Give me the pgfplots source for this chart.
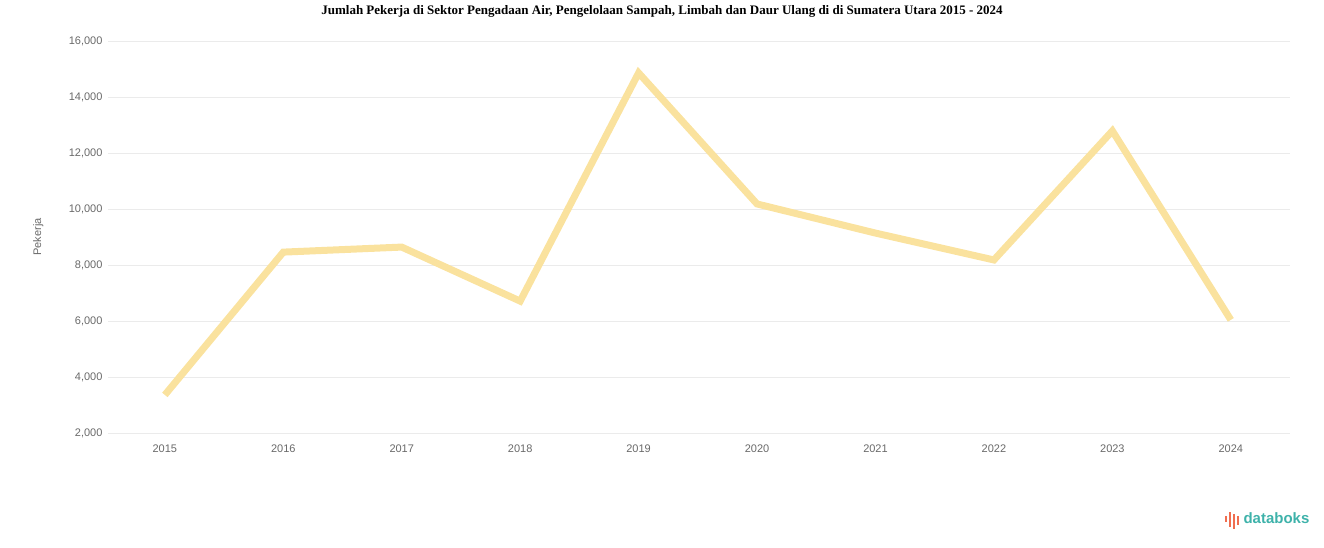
\documentclass[border=0pt]{standalone}
\usepackage{fontspec}
\setmainfont{Liberation Sans}
\newfontfamily\titlefont{Liberation Serif}
\usepackage{pgfplots}
\pgfplotsset{compat=1.18}
\definecolor{linec}{RGB}{250,226,158}
\definecolor{tickc}{RGB}{105,105,105}
\definecolor{gridc}{RGB}{235,235,235}
\definecolor{teal}{RGB}{62,178,170}
\definecolor{logoor}{RGB}{240,110,80}
\begin{document}
\begin{tikzpicture}
\path[use as bounding box] (0pt,0pt) rectangle (1324pt,547pt);
\node[font=\titlefont\bfseries\fontsize{13}{15}\selectfont] at (662pt,536pt) {Jumlah Pekerja di Sektor Pengadaan Air, Pengelolaan Sampah, Limbah dan Daur Ulang di di Sumatera Utara 2015 - 2024};
\begin{axis}[
  at={(108pt,114pt)}, anchor=south west, scale only axis,
  width=1182pt, height=392pt,
  xmin=2014.52, xmax=2024.5, ymin=2000, ymax=16000,
  xtick={2015,2016,2017,2018,2019,2020,2021,2022,2023,2024},
  ytick={2000,4000,6000,8000,10000,12000,14000,16000},
  scaled ticks=false,
  axis line style={draw=none}, major tick length=0pt,
  ymajorgrids, grid style={gridc, line width=0.8pt},
  /pgf/number format/assume math mode=true,
  x tick label style={/pgf/number format/1000 sep={}, font=\fontsize{11}{13}\selectfont, text=tickc, yshift=-8pt},
  y tick label style={/pgf/number format/fixed, /pgf/number format/1000 sep={,}, font=\fontsize{11}{13}\selectfont, text=tickc, xshift=-2pt},
  ylabel={Pekerja},
  ylabel style={at={(axis description cs:-0.059,0.5)}, anchor=center, font=\fontsize{11}{13}\selectfont, text=tickc},
  clip=false,
]
\addplot[linec, line width=7pt] coordinates {
 (2015,3360) (2016,8460) (2017,8640) (2018,6710) (2019,14860)
 (2020,10180) (2021,9140) (2022,8180) (2023,12790) (2024,6040)};
\end{axis}
\fill[logoor] (1225pt,25pt) rectangle (1227pt,31pt);
\fill[logoor] (1229pt,20pt) rectangle (1231pt,35pt);
\fill[logoor] (1233pt,18pt) rectangle (1235pt,33pt);
\fill[logoor] (1237pt,22pt) rectangle (1239pt,31pt);
\node[anchor=west, font=\bfseries\fontsize{15}{17}\selectfont, text=teal] at (1240pt,29pt) {databoks};
\end{tikzpicture}
\end{document}
